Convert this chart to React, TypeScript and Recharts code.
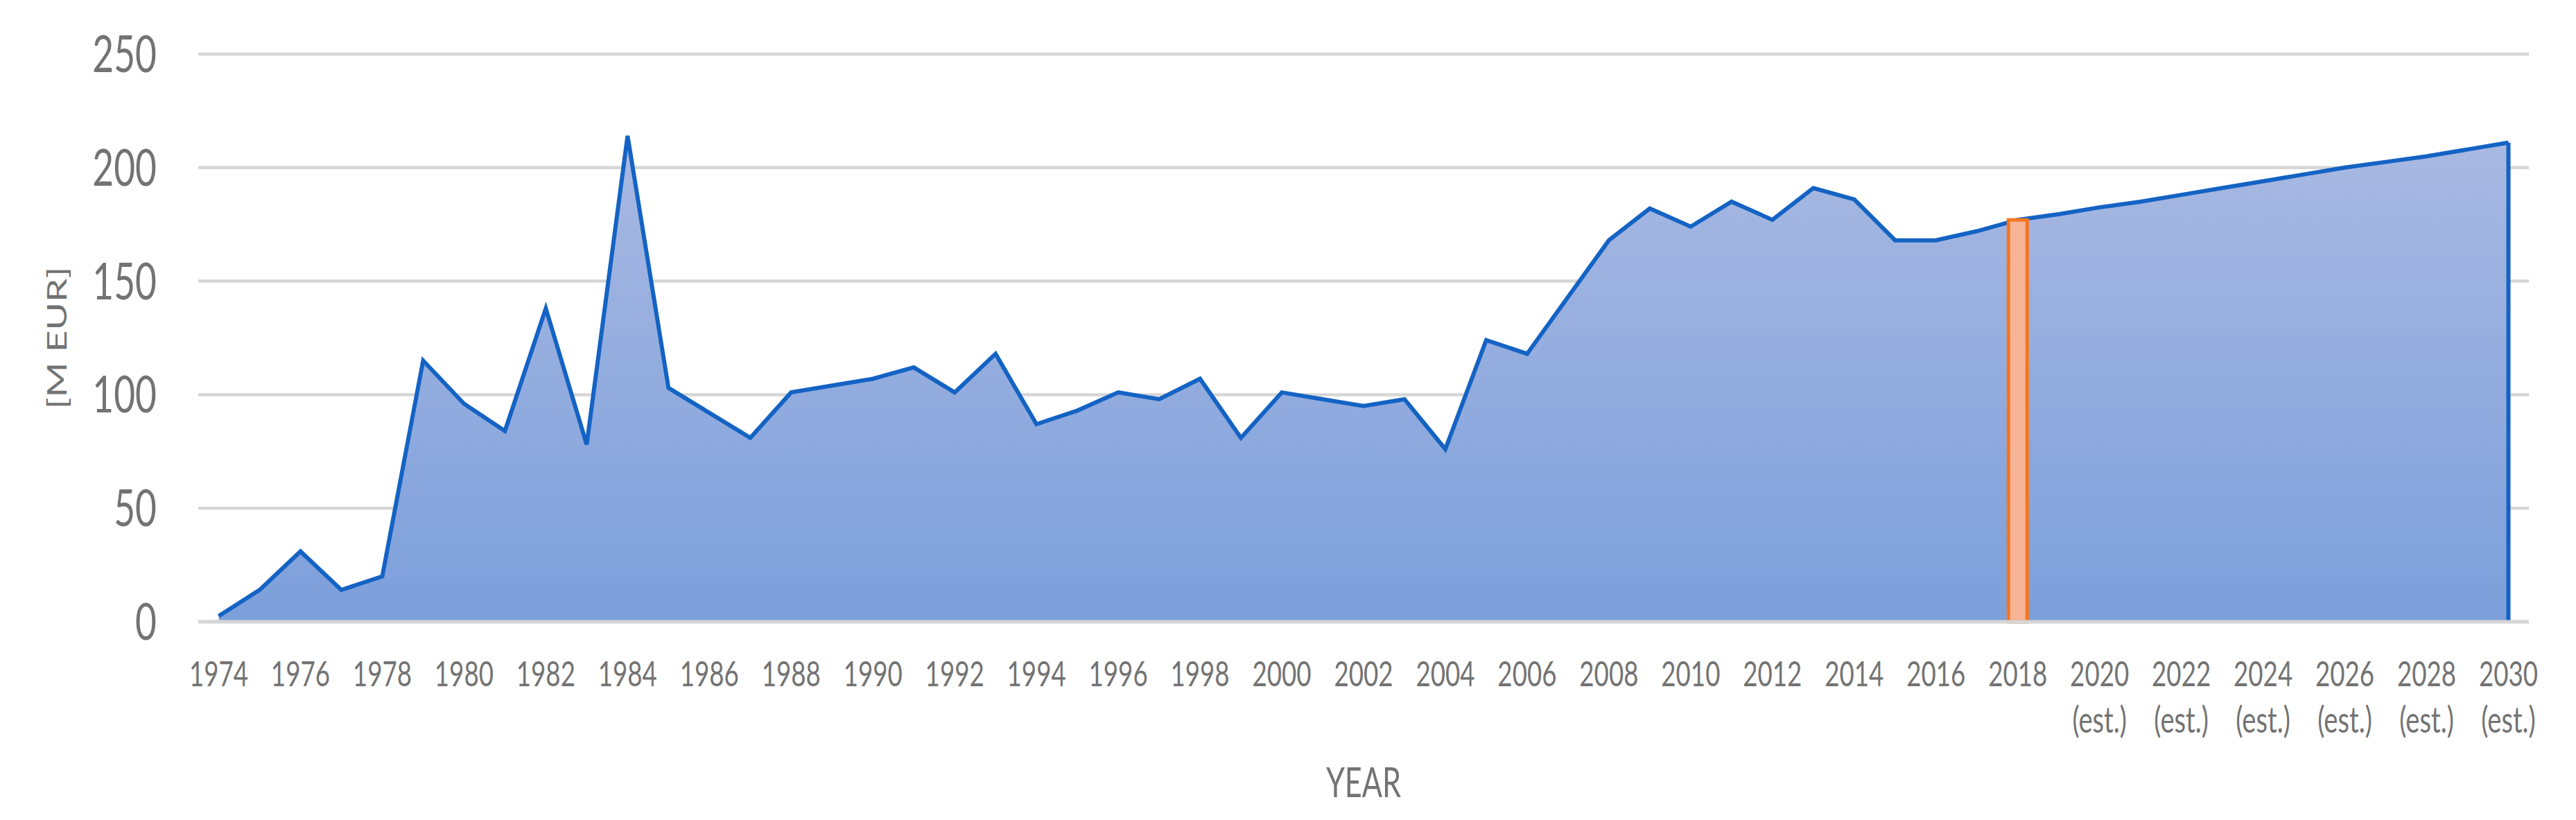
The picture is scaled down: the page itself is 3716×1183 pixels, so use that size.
import {
  ComposedChart,
  Area,
  Bar,
  XAxis,
  YAxis,
  CartesianGrid,
  ReferenceLine,
} from 'recharts';

// years on the category axis, values in M EUR
const years = [
  '1974', '1975', '1976', '1977', '1978', '1979', '1980', '1981', '1982', '1983',
  '1984', '1985', '1986', '1987', '1988', '1989', '1990', '1991', '1992', '1993',
  '1994', '1995', '1996', '1997', '1998', '1999', '2000', '2001', '2002', '2003',
  '2004', '2005', '2006', '2007', '2008', '2009', '2010', '2011', '2012', '2013',
  '2014', '2015', '2016', '2017', '2018', '2019', '2020', '2021', '2022', '2023',
  '2024', '2025', '2026', '2027', '2028', '2029', '2030',
];

const spending = [
  2.5, 14, 31, 14, 20, 115, 96, 84, 138, 78,
  214, 103, 92, 81, 101, 104, 107, 112, 101, 118,
  87, 93, 101, 98, 107, 81, 101, 98, 95, 98,
  76, 124, 118, 143, 168, 182, 174, 185, 177, 191,
  186, 168, 168, 172, 177, 179.5, 182.5, 185, 188, 191,
  194, 197, 200, 202.5, 205, 208, 211,
];

// the highlighted current year
const markerYear = '2018';
const markerValue = 177;

// labels from this year on get "(est.)"
const estimatedFrom = 2019;

const yTicks = [0, 50, 100, 150, 200, 250];

const FONT = 'Lato, "Open Sans", sans-serif';
const TEXT = '#737373';
const SQUEEZE = 0.72;

const data = years.map((year, i) => ({
  year,
  value: spending[i],
  marker: year === markerYear ? markerValue : null,
}));

function YearTick({ x, y, payload }: any) {
  const est = Number(payload.value) >= estimatedFrom;
  return (
    <g transform={`translate(${x},${y})`}>
      <text transform={`scale(${SQUEEZE},1)`} textAnchor="middle" y={93} fontSize={51} fill={TEXT} fontFamily={FONT}>
        {payload.value}
      </text>
      {est && (
        <text transform={`scale(${SQUEEZE},1)`} textAnchor="middle" y={160} fontSize={53} fill={TEXT} fontFamily={FONT}>
          (est.)
        </text>
      )}
    </g>
  );
}

function ValueTick({ x, y, payload }: any) {
  return (
    <g transform={`translate(${x},${y})`}>
      <text transform={`scale(${SQUEEZE},1)`} textAnchor="end" y={26} fontSize={74} fill={TEXT} fontFamily={FONT}>
        {payload.value}
      </text>
    </g>
  );
}

function YearTitle({ viewBox }: any) {
  const cx = viewBox.x + viewBox.width / 2;
  return (
    <g transform={`translate(${cx},${viewBox.y + 253})`}>
      <text transform={`scale(${SQUEEZE},1)`} textAnchor="middle" fontSize={60} fill={TEXT} fontFamily={FONT}>
        YEAR
      </text>
    </g>
  );
}

function UnitTitle({ viewBox }: any) {
  const cy = viewBox.y + viewBox.height / 2;
  return (
    <g transform={`translate(82,${cy}) rotate(-90) scale(1,${SQUEEZE})`}>
      <text textAnchor="middle" dy="0.36em" fontSize={55} fill={TEXT} fontFamily={FONT}>
        [M EUR]
      </text>
    </g>
  );
}

export default function App() {
  const last = data[data.length - 1];
  return (
    <div style={{ position: 'absolute', left: 0, top: 0, width: 3716, height: 1183, background: '#fff' }}>
      <ComposedChart width={3716} height={1183} data={data} margin={{ top: 78, right: 68, left: 0, bottom: 0 }}>
        <defs>
          <linearGradient id="areaFill" x1="0" y1="0" x2="0" y2="1">
            <stop offset="0%" stopColor="#a9b9e2" />
            <stop offset="100%" stopColor="#7c9fdb" />
          </linearGradient>
        </defs>
        <CartesianGrid vertical={false} stroke="#d6d6d6" strokeWidth={4.5} />
        <XAxis
          dataKey="year"
          interval={1}
          tickLine={false}
          tickSize={0}
          tickMargin={0}
          height={286}
          axisLine={{ stroke: '#d6d6d6', strokeWidth: 5 }}
          tick={(props) => <YearTick {...props} />}
          label={<YearTitle />}
        />
        <YAxis
          domain={[0, 250]}
          ticks={yTicks}
          width={286}
          axisLine={false}
          tickLine={false}
          tickSize={0}
          tickMargin={60}
          tick={(props) => <ValueTick {...props} />}
          label={<UnitTitle />}
        />
        <Area
          type="linear"
          dataKey="value"
          stroke="#1463c4"
          strokeWidth={6}
          fill="url(#areaFill)"
          fillOpacity={1}
          isAnimationActive={false}
          dot={false}
          activeDot={false}
        />
        <ReferenceLine
          segment={[
            { x: last.year, y: 0 },
            { x: last.year, y: last.value },
          ]}
          stroke="#1463c4"
          strokeWidth={6}
        />
        <Bar
          dataKey="marker"
          barSize={27}
          fill="#f8b496"
          stroke="#f5761f"
          strokeWidth={5}
          isAnimationActive={false}
        />
      </ComposedChart>
    </div>
  );
}
